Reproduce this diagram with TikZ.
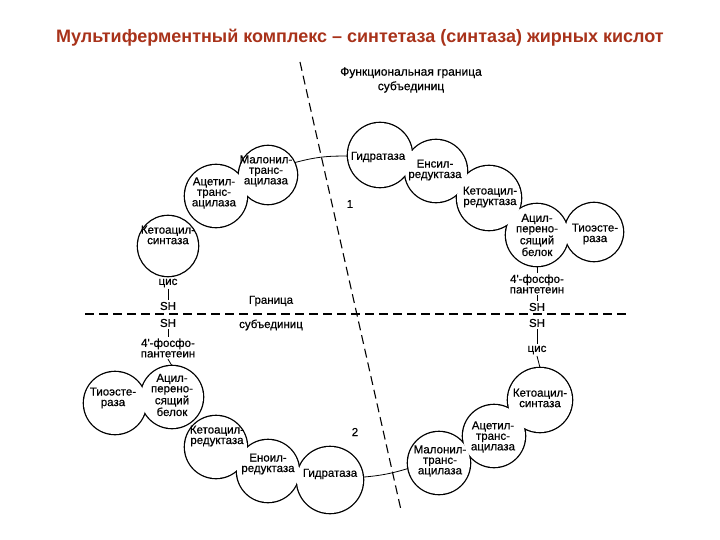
\documentclass[tikz,border=0pt]{standalone}
\usepackage{fontspec}
\setmainfont{Liberation Sans}
\newfontfamily\enzfont[FakeBold=0.6]{Liberation Sans}
\usetikzlibrary{backgrounds}
\definecolor{titlered}{HTML}{A8321A}
\begin{document}
\begin{tikzpicture}[x=1pt,y=-1pt,
  font=\enzfont\fontsize{11.5}{10.5}\selectfont,
  enz/.style={circle, inner sep=0pt, minimum size={2*#1}},
  etxt/.style={inner sep=0pt, align=center},
  lbl/.style={inner sep=1.5pt, align=center},
  bnd/.style={dash pattern=on 9pt off 5pt, line width=1.1pt},
  conn/.style={line width=0.8pt}]
\useasboundingbox (0,0) rectangle (720,540);

\node[font=\rmfamily\fontsize{18}{18}\selectfont\bfseries, text=titlered] (title) at (360,38)
  {Мультиферментный комплекс – синтетаза (синтаза) жирных кислот};

% ---- subunit 1 (top) ----
\node[enz=30] (ks1) at (168,246) {};
\node[enz=31] (at1) at (216,196) {};
\node[enz=29] (mal1) at (268,175) {};
\node[enz=32] (hyd1) at (380,155) {};
\node[enz=31] (enr1) at (436,171) {};
\node[enz=32] (kr1) at (489,198) {};
\node[enz=31] (acp1) at (537,235) {};
\node[enz=29] (te1) at (594,232) {};

\node[etxt] (ks1t) at (168,235) {Кетоацил-\\синтаза};
\node[etxt] (at1t) at (214,193) {Ацетил-\\транс-\\ацилаза};
\node[etxt] (mal1t) at (266,171) {Малонил-\\транс-\\ацилаза};
\node[etxt] (hyd1t) at (378,157) {Гидратаза};
\node[etxt] (enr1t) at (435,170) {Енсил-\\редуктаза};
\node[etxt] (kr1t) at (490,197) {Кетоацил-\\редуктаза};
\node[etxt] (acp1t) at (537,235) {Ацил-\\перено-\\сящий\\белок};
\node[etxt] (te1t) at (595,234) {Тиоэсте-\\раза};

% ---- subunit 2 (bottom) ----
\node[enz=31] (te2) at (115,403) {};
\node[enz=31] (acp2) at (172,397) {};
\node[enz=31] (kr2) at (216,447) {};
\node[enz=31] (enr2) at (268,471) {};
\node[enz=33] (hyd2) at (330,480) {};
\node[enz=31] (mal2) at (439,463) {};
\node[enz=31] (at2) at (494,436) {};
\node[enz=32] (ks2) at (540,400) {};

\node[etxt] (te2t) at (113,398) {Тиоэсте-\\раза};
\node[etxt] (acp2t) at (172,395) {Ацил-\\перено-\\сящий\\белок};
\node[etxt] (kr2t) at (217,436) {Кетоацил-\\редуктаза};
\node[etxt] (enr2t) at (268,464) {Еноил-\\редуктаза};
\node[etxt] (hyd2t) at (330,474) {Гидратаза};
\node[etxt] (mal2t) at (440,461) {Малонил-\\транс-\\ацилаза};
\node[etxt] (at2t) at (493,437) {Ацетил-\\транс-\\ацилаза};
\node[etxt] (ks2t) at (540,398) {Кетоацил-\\синтаза};

% ---- chain labels ----
\node[lbl] (cis1) at (168,283) {цис};
\node[lbl] (sh1) at (168,306) {SH};
\node[lbl] (sh2) at (168,323) {SH};
\node[lbl] (fp2) at (168,348) {4'-фосфо-\\пантетеин};
\node[lbl] (fp1) at (537,284) {4'-фосфо-\\пантетеин};
\node[lbl] (sh3) at (537,307) {SH};
\node[lbl] (sh4) at (537,323) {SH};
\node[lbl] (cis2) at (537,350) {цис};

\node[lbl, font=\enzfont\fontsize{12}{14.5}\selectfont] (fgr) at (411,80) {Функциональная граница\\субъединиц};
\node[lbl] (gr) at (271,301) {Граница};
\node[lbl] (sub) at (271,325) {субъединиц};
\node[lbl] (n1) at (350,204) {1};
\node[lbl] (n2) at (355,432) {2};

\coordinate (hl) at (85,314);
\coordinate (hr) at (630,314);
\coordinate (vt) at (300,62);
\coordinate (vb) at (401,510);

\begin{pgfonlayer}{background}
  \draw[bnd] (hl) -- (hr);
  \draw[bnd] (vt) -- (vb);
  \draw[conn] (ks1.south) -- (cis1.north);
  \draw[conn] (cis1.south) -- (sh1.north);
  \draw[conn] (sh2.south) -- (fp2.north);
  \draw[conn] (fp2.south) -- (acp2.north);
  \draw[conn] (acp1.south) -- (fp1.north);
  \draw[conn] (fp1.south) -- (sh3.north);
  \draw[conn] (sh4.south) -- (cis2.north);
  \draw[conn] (cis2.south) -- (ks2.north);
  \draw[conn] (mal1.25) to[bend left=8] (hyd1.182);
  \draw[conn] (hyd2.5) to[bend right=6] (mal2.190);
  \foreach \n/\r in {ks1/30,at1/31,mal1/29,hyd1/32,enr1/31,kr1/32,acp1/31,te1/29,
                     te2/31,acp2/31,kr2/31,enr2/31,hyd2/33,mal2/31,at2/31,ks2/32}
    \draw[line width=2.6pt] (\n.center) circle[radius=\r pt];
  \foreach \n/\r in {ks1/30,at1/31,mal1/29,hyd1/32,enr1/31,kr1/32,acp1/31,te1/29,
                     te2/31,acp2/31,kr2/31,enr2/31,hyd2/33,mal2/31,at2/31,ks2/32}
    \fill[white] (\n.center) circle[radius=\r pt];
\end{pgfonlayer}
\end{tikzpicture}
\end{document}
